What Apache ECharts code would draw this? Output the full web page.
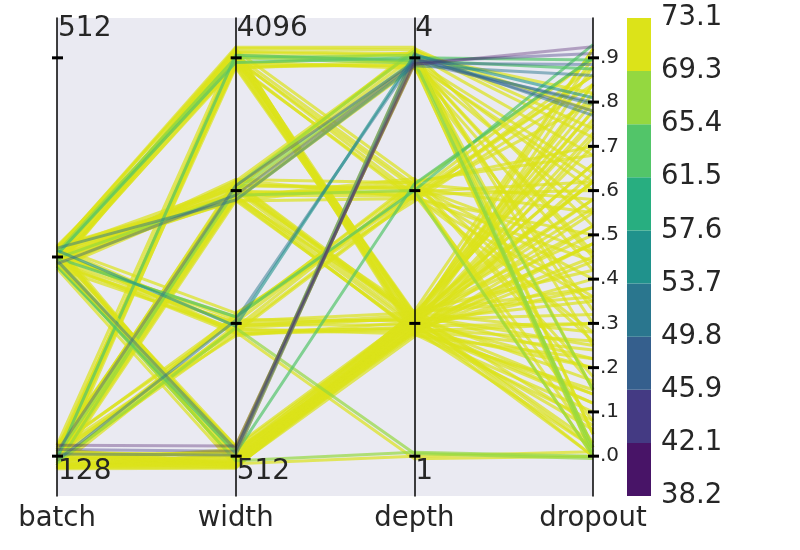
<!DOCTYPE html>
<html><head><meta charset="utf-8">
<script src="https://cdn.jsdelivr.net/npm/echarts@6/dist/echarts.min.js"></script>
<style>html,body{margin:0;padding:0;background:#fff}#c{width:800px;height:550px}</style>
</head><body><div id="c"></div>
<script>
// ---- data: one entry per training run (including the visible jitter) ----
const dimNames = ['batch', 'width', 'depth', 'dropout'];
const batch = [
  247,251,255,259,263,266,249,261,253,257,265,246,250,262,
  124,131,127,133,125,129,122.5,
  248,254,260,266,251,257,263,246,259,253,264,249,
  129,124,132,126,130,123,133,127,125,131,
  255,261,248,265,264,251,258,246,
  127,131,124,129,126,133,123,130,
  259,252,265,248,256,262,246,254,267,
  127,124,130,126,123,129,125,131,128,124,122.5,126,130,127,125,123.5,
  252,258,264,250,256,262,126,131,247,265,125,132,253,260,124,129,127,123,251,263,126,130,255,249,
  126,123,252,258,128,260,255,124,250,125,255,248,127,258,250,124,260,
  130,264,253,126,262,250,129,131,133
];
const width = [
  4300,3900,4210,4020,4330,3880,4150,3960,4260,4080,3920,4180,4050,4290,
  4240,3940,4100,4310,3890,4190,4000,
  2150,1950,2080,2010,2170,1940,2110,2040,1980,2130,1960,2060,
  2120,1960,2070,2000,2160,1940,2030,2090,1990,2140,
  1060,975,1030,1080,1010,970,1045,995,
  1050,985,1075,1000,970,1035,1015,960,
  540,505,490,528,497,515,485,535,510,
  500,488,512,495,483,520,498,492,486,505,481,530,490,508,484,495,
  4120,3990,4230,2000,2090,1945,2050,1975,2100,2000,1000,1060,1025,985,515,488,525,500,500,525,4060,3930,4160,3950,
  525,492,980,4100,2048,4096,2000,2100,500,1000,1060,520,4150,4000,540,515,530,
  2100,1950,530,1040,1010,2000,515,525,540
];
const depth = [
  4.06,3.95,4.02,3.92,4.08,3.98,3.04,2.93,3.08,2.97,2.05,1.93,2.08,1.96,
  4.03,3.94,2.06,1.95,2.02,1.91,2.07,
  4.05,3.93,4.01,3.97,3.06,2.94,3.02,2.97,3.09,2.04,1.94,2.09,
  4.04,3.95,4.07,3.04,2.95,3.07,2.99,2.03,1.93,2.06,
  3.05,2.95,3.02,2.92,2.06,1.97,2.02,1.92,
  3.07,2.96,2.98,2.04,1.95,2.08,1.99,2.01,
  2.07,1.96,2.03,1.93,2.09,2.00,1.94,2.05,1.98,
  2.03,1.97,2.06,1.92,2.01,2.08,1.95,2.04,1.90,2.00,2.07,1.94,2.02,1.98,2.05,1.93,
  2.01,1.97,2.04,1.98,2.05,1.95,2.00,2.07,3.01,2.96,3.03,2.97,2.03,1.96,2.02,1.96,2.05,1.99,2.04,1.95,3.02,2.95,3.97,4.04,
  3.97,1.00,0.98,4.02,3.98,3.96,3.00,4.05,1.03,1.02,3.00,3.05,3.98,4.00,3.95,4.00,4.03,
  3.97,3.94,4.03,3.99,4.02,3.96,4.00,3.97,3.95
];
const dropout = [
  0.72,0.55,0.82,0.33,0.05,0.64,0.40,0.88,0.18,0.60,0.76,0.48,0.28,0.12,
  0.68,0.02,0.58,0.84,0.35,0.22,0.07,
  0.78,0.42,0.15,0.60,0.70,0.50,0.03,0.86,0.26,0.66,0.30,0.92,
  0.52,0.00,0.74,0.90,0.44,0.16,0.62,0.56,0.10,0.80,
  0.58,0.35,0.00,0.84,0.78,0.45,0.20,0.64,
  0.68,0.28,0.90,0.52,0.02,0.38,0.73,0.14,
  0.75,0.55,0.32,0.15,0.42,0.00,0.88,0.62,0.06,
  0.66,0.48,0.25,0.08,0.58,0.36,0.20,0.03,0.72,0.12,0.82,0.44,0.92,0.30,0.00,0.52,
  0.62,0.38,0.02,0.48,0.84,0.14,0.70,0.22,0.36,0.80,0.46,0.08,0.90,0.26,0.78,0.40,0.17,0.62,0.50,0.24,0.55,0.86,0.46,0.25,
  0.45,0.01,0.00,0.00,0.02,0.15,0.00,0.01,0.00,-0.005,0.93,0.90,0.875,0.895,0.62,0.30,0.05,
  0.80,0.86,0.77,0.795,0.81,0.885,0.78,0.91,0.925
];
const acc = [
  72.5,72.0,71.8,72.6,70.2,71.6,72.8,72.1,71.9,72.4,72.7,72.3,71.5,72.9,
  72.2,69.8,71.6,72.3,72.0,72.6,71.4,
  72.0,71.4,72.9,71.2,72.5,71.7,72.2,72.6,71.9,71.9,72.6,72.1,
  72.1,70.3,71.5,72.4,72.8,71.8,72.3,72.0,72.5,71.6,
  72.3,71.6,72.0,72.4,72.7,71.9,72.2,71.5,
  72.1,71.5,72.6,72.6,72.0,71.2,72.4,71.8,
  72.4,71.8,72.2,72.9,71.4,72.0,72.5,71.7,72.3,
  72.3,71.7,72.5,72.1,71.9,72.8,72.0,71.5,72.6,72.2,71.8,72.4,71.6,72.7,71.3,72.0,
  72.0,71.7,72.3,72.5,71.8,72.2,72.6,71.6,72.0,72.4,71.9,72.7,72.1,71.5,72.3,72.0,72.6,71.8,72.2,71.9,72.4,71.7,72.1,71.3,
  70.0,70.5,71.0,68.5,68.0,68.2,68.8,67.5,66.0,65.5,62.0,64.5,64.0,63.5,70.4,70.8,69.8,
  49.0,50.0,51.0,52.0,55.0,46.0,47.0,43.0,40.0
];
const batchTicks = [128, 256, 512];
const widthTicks = [512, 1024, 2048, 4096];
const depthTicks = [1, 2, 3, 4];
const dropoutTicks = [0, 0.1, 0.2, 0.3, 0.4, 0.5, 0.6, 0.7, 0.8, 0.9];
const dropoutTickLabels = ['.0', '.1', '.2', '.3', '.4', '.5', '.6', '.7', '.8', '.9'];
const axisEndLabels = [['128', '512'], ['512', '4096'], ['1', '4']];
const cbLabels = ['38.2', '42.1', '45.9', '49.8', '53.7', '57.6', '61.5', '65.4', '69.3', '73.1'];
const cbColors = ['#481467', '#443A83', '#355F8D', '#2A768E', '#20928C', '#28AE80', '#52C569', '#94D840', '#DCE319'];

// ---- styling ----
const FONT = 'DejaVu Sans';
const TXT = '#262626';
const lineAlpha = [0.35, 0.4, 0.45, 0.5, 0.6, 0.65, 0.7, 0.7, 0.7];
const L = 57, R = 593, T = 18, B = 496;

function rgba(hex, a) {
  const n = parseInt(hex.slice(1), 16);
  return 'rgba(' + (n >> 16 & 255) + ',' + (n >> 8 & 255) + ',' + (n & 255) + ',' + a + ')';
}
const rows = batch.map((b, i) => [b, width[i], depth[i], dropout[i], acc[i]]);

const tickRich = { t: { width: 11, height: 3, backgroundColor: '#000', fontSize: 1, lineHeight: 3 },
                   l: { fontSize: 20, fontFamily: FONT, color: TXT, padding: [0, 0, 0, 1] } };
function onTick(list, v) { return list.some(t => Math.abs(t - v) <= 1e-6 * Math.max(1, Math.abs(t))); }
function baseAxis(i) {
  return {
    dim: i, name: dimNames[i], nameLocation: 'start', nameGap: 9,
    nameTextStyle: { fontSize: 27.5, color: TXT, fontFamily: FONT },
    axisLine: { lineStyle: { color: '#000', width: 1.5 } },
    axisTick: { show: false },
    splitLine: { show: false }
  };
}
const pAxes = [
  Object.assign(baseAxis(0), { type: 'log', logBase: 2, min: Math.pow(2, 6.8), max: Math.pow(2, 9.2),
    axisLabel: { margin: -5, rich: tickRich, formatter: v => onTick(batchTicks, v) ? '{t| }' : '' } }),
  Object.assign(baseAxis(1), { type: 'log', logBase: 2, min: Math.pow(2, 8.7), max: Math.pow(2, 12.3),
    axisLabel: { margin: -5, rich: tickRich, formatter: v => onTick(widthTicks, v) ? '{t| }' : '' } }),
  Object.assign(baseAxis(2), { type: 'value', min: 0.7, max: 4.3,
    axisLabel: { margin: -5, rich: tickRich, customValues: depthTicks, formatter: () => '{t| }' } }),
  Object.assign(baseAxis(3), { type: 'value', min: -0.09, max: 0.99,
    axisLabel: { margin: -5, rich: tickRich, customValues: dropoutTicks,
      formatter: v => { const k = dropoutTicks.findIndex(t => Math.abs(t - v) < 1e-6); return k < 0 ? '' : '{t| }{l|' + dropoutTickLabels[k] + '}'; } } })
];

const axisX = i => L + (R - L) * i / 3;
const graphics = [];
axisEndLabels.forEach((p, i) => {
  graphics.push({ type: 'text', x: axisX(i) + 1, y: 29, z: 100,
    style: { text: p[1], font: '28px "DejaVu Sans"', fill: TXT, textVerticalAlign: 'middle' } });
  graphics.push({ type: 'text', x: axisX(i) + 1, y: 471.4, z: 100,
    style: { text: p[0], font: '28px "DejaVu Sans"', fill: TXT, textVerticalAlign: 'middle' } });
});

const chart = echarts.init(document.getElementById('c'), null, { renderer: 'canvas' });
chart.setOption({
  animation: false,
  textStyle: { fontFamily: FONT },
  grid: [
    { left: L, top: T, width: R - L, height: B - T, show: true, backgroundColor: '#EAEAF2', borderWidth: 0, z: 0 },
    { left: 627, top: T, width: 24, height: B - T, show: false }
  ],
  xAxis: [
    { gridIndex: 0, show: false, type: 'value' },
    { gridIndex: 1, show: false, type: 'category', data: ['cb'] }
  ],
  yAxis: [
    { gridIndex: 0, show: false, type: 'value' },
    { gridIndex: 1, type: 'value', position: 'right', min: 0, max: 9, interval: 1,
      axisLine: { show: false }, axisTick: { show: false }, splitLine: { show: false },
      axisLabel: { margin: 10, fontSize: 27.5, color: TXT, fontFamily: FONT, formatter: v => cbLabels[Math.round(v)] } }
  ],
  parallel: { left: L, right: 800 - R, top: T, bottom: 550 - B, layout: 'horizontal', axisExpandWidth: 300, z: 2 },
  parallelAxis: pAxes,
  visualMap: {
    type: 'piecewise', show: false, dimension: 4, seriesIndex: 0,
    pieces: cbColors.map((c, i) => ({ gte: +cbLabels[i], lt: i === 8 ? 100 : +cbLabels[i + 1], color: rgba(c, lineAlpha[i]) }))
  },
  graphic: graphics,
  series: [
    { type: 'parallel', data: rows, silent: true, smooth: false,
      lineStyle: { width: 3, opacity: 1 }, emphasis: { disabled: true } }
  ].concat(cbColors.map(c => ({
    type: 'bar', xAxisIndex: 1, yAxisIndex: 1, stack: 'cb', data: [1], barWidth: '100%', silent: true,
    itemStyle: { color: c }
  })))
});
</script></body></html>
